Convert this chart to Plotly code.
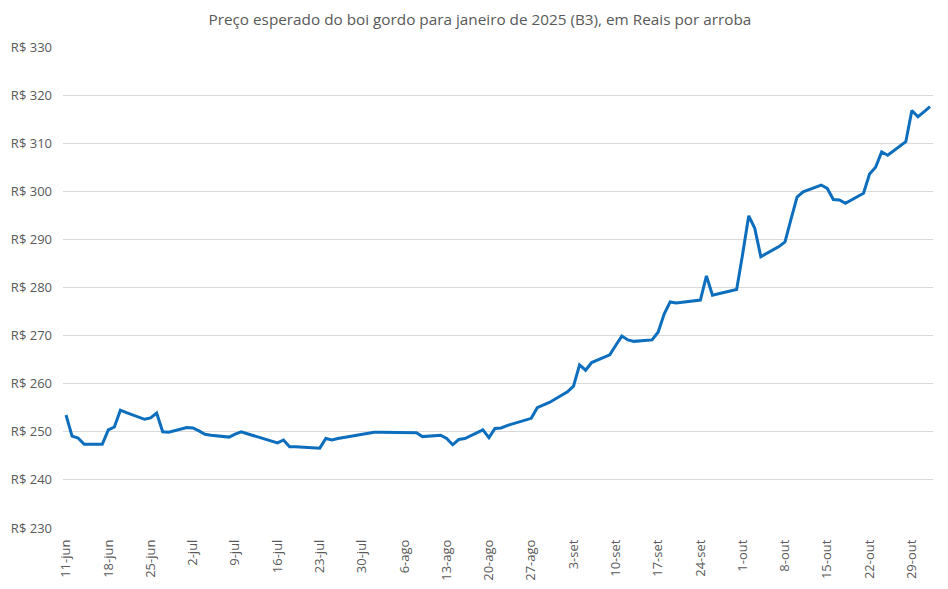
import plotly.graph_objects as go

title_text = "Preço esperado do boi gordo para janeiro de 2025 (B3), em Reais por arroba"

dates = [
    "2024-06-11", "2024-06-12", "2024-06-13", "2024-06-14",
    "2024-06-17", "2024-06-18", "2024-06-19", "2024-06-20", "2024-06-21",
    "2024-06-24", "2024-06-25", "2024-06-26", "2024-06-27", "2024-06-28",
    "2024-07-01", "2024-07-02", "2024-07-03", "2024-07-04", "2024-07-05",
    "2024-07-08", "2024-07-09", "2024-07-10", "2024-07-11", "2024-07-12",
    "2024-07-15", "2024-07-16", "2024-07-17", "2024-07-18", "2024-07-19",
    "2024-07-22", "2024-07-23", "2024-07-24", "2024-07-25", "2024-07-26",
    "2024-07-29", "2024-07-30", "2024-07-31", "2024-08-01", "2024-08-02",
    "2024-08-05", "2024-08-06", "2024-08-07", "2024-08-08", "2024-08-09",
    "2024-08-12", "2024-08-13", "2024-08-14", "2024-08-15", "2024-08-16",
    "2024-08-19", "2024-08-20", "2024-08-21", "2024-08-22", "2024-08-23",
    "2024-08-26", "2024-08-27", "2024-08-28", "2024-08-29", "2024-08-30",
    "2024-09-02", "2024-09-03", "2024-09-04", "2024-09-05", "2024-09-06",
    "2024-09-09", "2024-09-10", "2024-09-11", "2024-09-12", "2024-09-13",
    "2024-09-16", "2024-09-17", "2024-09-18", "2024-09-19", "2024-09-20",
    "2024-09-23", "2024-09-24", "2024-09-25", "2024-09-26", "2024-09-27",
    "2024-09-30", "2024-10-01", "2024-10-02", "2024-10-03", "2024-10-04",
    "2024-10-07", "2024-10-08", "2024-10-09", "2024-10-10", "2024-10-11",
    "2024-10-14", "2024-10-15", "2024-10-16", "2024-10-17", "2024-10-18",
    "2024-10-21", "2024-10-22", "2024-10-23", "2024-10-24", "2024-10-25",
    "2024-10-28", "2024-10-29", "2024-10-30", "2024-10-31", "2024-11-01",
]

precos = [
    253.5, 249.1, 248.7, 247.4,
    247.4, 250.4, 251.0, 254.5, 254.0,
    252.6, 252.9, 253.9, 250.0, 249.9,
    250.9, 250.8, 250.2, 249.5, 249.3,
    248.9, 249.5, 250.0, 249.6, 249.2,
    248.0, 247.7, 248.3, 246.9, 246.9,
    246.7, 246.6, 248.6, 248.3, 248.6,
    249.2, 249.4, 249.6, 249.9, 249.9,
    249.9, 249.9, 249.9, 249.8, 249.0,
    249.3, 248.6, 247.3, 248.4, 248.6,
    250.4, 248.8, 250.7, 250.8, 251.3,
    252.5, 252.8, 255.0, 255.6, 256.1,
    258.3, 259.5, 263.9, 262.8, 264.4,
    266.0, 268.0, 269.9, 269.1, 268.8,
    269.1, 270.7, 274.5, 277.0, 276.8,
    277.3, 277.4, 282.4, 278.4, 278.7,
    279.6, 287.0, 294.9, 292.3, 286.4,
    288.5, 289.5, 294.2, 298.8, 299.9,
    301.3, 300.6, 298.3, 298.2, 297.5,
    299.6, 303.6, 305.0, 308.2, 307.5,
    310.3, 316.8, 315.5, 316.5, 317.6,
]

tick_dates = [
    "2024-06-11", "2024-06-18", "2024-06-25", "2024-07-02", "2024-07-09",
    "2024-07-16", "2024-07-23", "2024-07-30", "2024-08-06", "2024-08-13",
    "2024-08-20", "2024-08-27", "2024-09-03", "2024-09-10", "2024-09-17",
    "2024-09-24", "2024-10-01", "2024-10-08", "2024-10-15", "2024-10-22",
    "2024-10-29",
]
tick_labels = [
    "11-jun", "18-jun", "25-jun", "2-jul", "9-jul", "16-jul", "23-jul",
    "30-jul", "6-ago", "13-ago", "20-ago", "27-ago", "3-set", "10-set",
    "17-set", "24-set", "1-out", "8-out", "15-out", "22-out", "29-out",
]

y_ticks = [230, 240, 250, 260, 270, 280, 290, 300, 310, 320, 330]
y_labels = ["R$ " + str(v) for v in y_ticks]

font_family = "Open Sans, Liberation Sans, sans-serif"
grey = "#595959"

fig = go.Figure()
fig.add_trace(go.Scatter(
    x=dates, y=precos, mode="lines",
    line=dict(color="#0C6EBD", width=3),
    hoverinfo="skip",
))

fig.update_layout(
    width=940, height=581,
    margin=dict(l=55, r=15, t=39, b=61, autoexpand=False),
    paper_bgcolor="white", plot_bgcolor="white",
    showlegend=False,
    title=dict(text=title_text, x=0.502, xref="container", xanchor="center",
               y=1 - 12 / 581, yref="container", yanchor="middle",
               font=dict(family=font_family, size=15.3, color=grey)),
    font=dict(family=font_family, color=grey),
)
fig.update_xaxes(
    type="date", automargin=False,
    range=["2024-06-10 12:00", "2024-11-01 12:00"],
    tickvals=tick_dates, ticktext=tick_labels,
    tickangle=-90, tickfont=dict(size=13, color=grey),
    showgrid=False, zeroline=False, showline=False, ticks="",
    ticklabelstandoff=8,
)
fig.update_yaxes(
    range=[230, 330], automargin=False,
    tickvals=y_ticks, ticktext=y_labels,
    tickfont=dict(size=13, color=grey),
    showgrid=True, gridcolor="#D9D9D9", gridwidth=1,
    zeroline=False, showline=False, ticks="", ticklabelstandoff=10,
)

fig.write_html("out.html")
